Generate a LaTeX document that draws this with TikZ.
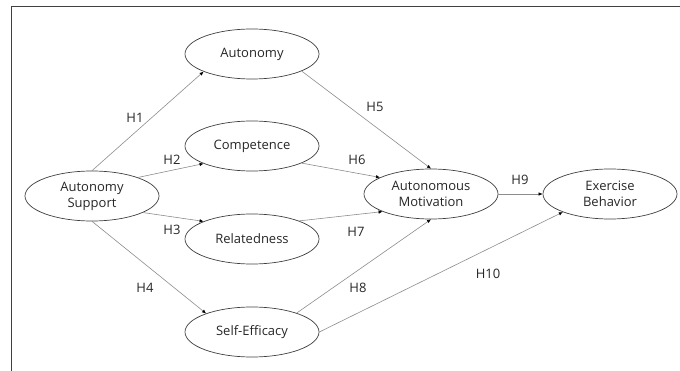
\documentclass[tikz,border=0pt]{standalone}
\usepackage{fontspec}
\setmainfont{Open Sans}
\usetikzlibrary{shapes.geometric,arrows.meta}
\tikzset{
  construct/.style={ellipse, draw=black!75, line width=0.7pt, minimum width=134pt, minimum height=50pt, inner sep=0pt, align=center, font=\fontsize{13}{16}\selectfont, text=black!85},
  path/.style={draw=black!45, line width=0.6pt, -{Latex[length=4pt,width=3.5pt,black]}},
  hyp/.style={font=\fontsize{13}{16}\selectfont, text=black!85}
}
\begin{document}
\begin{tikzpicture}[x=1pt,y=-1pt]
      \useasboundingbox (0,0) rectangle (680,371);
      \draw [color=black!75, line width=0.8pt] (11,371) -- (11,6) -- (680,6); % frame
      \node[construct] (as) at (92,196) {Autonomy\\Support};
      \node[construct] (aut) at (252,54) {Autonomy};
      \node[construct] (comp) at (252,146) {Competence};
      \node[construct] (rel) at (252,239) {Relatedness};
      \node[construct] (se) at (252,332) {Self-Efficacy};
      \node[construct] (am) at (431,194) {Autonomous\\Motivation};
      \node[construct] (eb) at (610,194) {Exercise\\Behavior};
      \draw [path] (as.north) -- (aut.200); % as--aut
      \draw [path] (as.22) -- (comp.200); % as--comp
      \draw [path] (as.342) -- (rel.160); % as--rel
      \draw [path] (as.south) -- (se.158); % as--se
      \draw [path] (aut.341) -- (am.north); % aut--am
      \draw [path] (comp.341) -- (am.162); % comp--am
      \draw [path] (rel.21) -- (am.200); % rel--am
      \draw [path] (se.23) -- (am.south); % se--am
      \draw [path] (am.east) -- (eb.west); % am--eb
      \draw [path] (se.east) -- (eb.201); % se--eb
      \node[hyp] (h1) at (135,118) {H1};
      \node[hyp] (h2) at (172,160) {H2};
      \node[hyp] (h3) at (172,230) {H3};
      \node[hyp] (h4) at (145,288) {H4};
      \node[hyp] (h5) at (375,107) {H5};
      \node[hyp] (h6) at (357,160) {H6};
      \node[hyp] (h7) at (356,232) {H7};
      \node[hyp] (h8) at (358,288) {H8};
      \node[hyp] (h9) at (520,180) {H9};
      \node[hyp] (h10) at (488,274) {H10};
    \end{tikzpicture}
\end{document}
